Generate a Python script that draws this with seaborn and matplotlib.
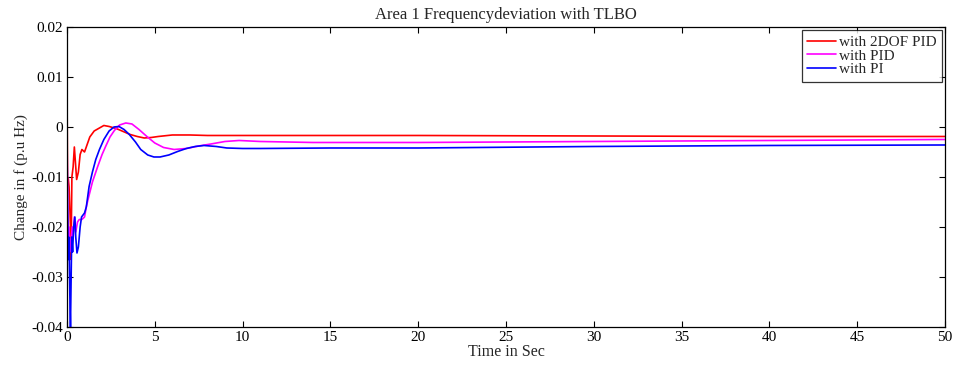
import numpy as np
import pandas as pd
import matplotlib
matplotlib.use("Agg")
import matplotlib.pyplot as plt
import seaborn as sns

# Data (values in units of 0.01 p.u. Hz)
t_red = [0, 0.01, 0.03, 0.08, 0.12, 0.2, 0.23, 0.28, 0.35, 0.42, 0.48, 0.55, 0.65, 0.75, 0.85,
         1.0, 1.15, 1.3, 1.55, 1.85, 2.1, 2.4, 2.8, 3.2, 3.6, 4.0, 4.4, 4.8, 5.2, 6.0, 7.0,
         8.0, 10, 20, 30, 40, 50]
v_red = [1.21, 0.3, -1.0, -1.05, -1.2, -2.0, -2.65, -1.0, -0.8, -0.4, -0.7, -1.05, -0.9, -0.55, -0.45,
         -0.5, -0.35, -0.2, -0.08, -0.02, 0.03, 0.01, -0.03, -0.09, -0.15, -0.19, -0.22, -0.21, -0.19,
         -0.16, -0.16, -0.17, -0.17, -0.17, -0.18, -0.19, -0.19]

t_pid = [0, 0.04, 0.08, 0.12, 0.16, 0.2, 0.25, 0.3, 0.35, 0.42, 0.5, 0.6, 0.7, 0.85, 1.0, 1.1, 1.2,
         1.45, 1.75, 2.0, 2.2, 2.45, 2.7, 3.0, 3.35, 3.7, 4.1, 4.55, 5.0, 5.5, 6.1, 6.8, 7.5, 8.2,
         9.0, 9.8, 11, 14, 20, 30, 40, 50]
v_pid = [-0.1, -1.5, -2.25, -2.0, -2.5, -2.4, -2.2, -2.0, -2.2, -1.8, -2.1, -1.9, -1.85, -1.85, -1.8,
         -1.6, -1.45, -1.1, -0.79, -0.55, -0.39, -0.2, -0.07, 0.04, 0.08, 0.06, -0.05, -0.19, -0.32,
         -0.41, -0.45, -0.43, -0.38, -0.34, -0.29, -0.27, -0.29, -0.31, -0.31, -0.29, -0.27, -0.25]

t_pi = [0, 0.03, 0.07, 0.1, 0.13, 0.17, 0.2, 0.23, 0.27, 0.32, 0.38, 0.45, 0.5, 0.57, 0.65, 0.75,
        0.83, 1.0, 1.1, 1.26, 1.45, 1.64, 1.85, 2.1, 2.4, 2.68, 2.96, 3.25, 3.55, 3.9, 4.2, 4.6,
        4.95, 5.3, 5.8, 6.3, 6.8, 7.3, 7.8, 8.5, 9.1, 10, 11, 15, 20, 30, 40, 50]
v_pi = [-0.32, -1.5, -2.65, -2.2, -2.6, -3.5, -4.0, -3.2, -2.2, -2.5, -2.0, -1.8, -2.2, -2.52, -2.4,
        -2.0, -1.8, -1.72, -1.6, -1.19, -0.9, -0.65, -0.45, -0.25, -0.08, 0.0, 0.01, -0.05, -0.15,
        -0.3, -0.45, -0.56, -0.6, -0.6, -0.56, -0.49, -0.43, -0.39, -0.37, -0.39, -0.42, -0.43,
        -0.43, -0.42, -0.42, -0.39, -0.37, -0.36]

labels = ["with 2DOF PID", "with PID", "with PI"]
colors = ["#ff0000", "#ff00ff", "#0000ff"]
x_ticks = [0, 5, 10, 15, 20, 25, 30, 35, 40, 45, 50]
y_ticks = [-0.04, -0.03, -0.02, -0.01, 0, 0.01, 0.02]
y_tick_labels = ["-0.04", "-0.03", "-0.02", "-0.01", "0", "0.01", "0.02"]

frames = []
for lab, tt, vv in zip(labels, [t_red, t_pid, t_pi], [v_red, v_pid, v_pi]):
    frames.append(pd.DataFrame({"t": tt, "v": np.array(vv) * 0.01, "series": lab}))
df = pd.concat(frames, ignore_index=True)

sns.set_theme(style="white")
plt.rcParams["font.family"] = ["Liberation Serif", "DejaVu Serif"]

fig = plt.figure(figsize=(9.54, 3.65), dpi=100)
ax = fig.add_axes([0.0702, 0.1041, 0.9204, 0.822])
sns.lineplot(data=df, x="t", y="v", hue="series", palette=colors, hue_order=labels,
             ax=ax, linewidth=1.2, estimator=None, sort=False)

ax.set_xlim(0, 50)
ax.set_ylim(-0.04, 0.02)
ax.set_xticks(x_ticks)
ax.set_xticklabels([str(x) for x in x_ticks], fontsize=11)
ax.set_yticks(y_ticks)
ax.set_yticklabels(y_tick_labels, fontsize=11)
ax.tick_params(direction="in", length=4, width=0.8, top=True, right=True, bottom=True, left=True,
               pad=3, colors="black")
for s in ax.spines.values():
    s.set_color("black")
    s.set_linewidth(0.9)
ax.set_title("Area 1 Frequencydeviation with TLBO", fontsize=12, pad=6)
ax.set_xlabel("Time in Sec", fontsize=11.5, labelpad=0)
ax.set_ylabel("Change in f (p.u Hz)", fontsize=11, labelpad=2)
leg = ax.legend(loc="upper right", fontsize=11, frameon=True, fancybox=False, handlelength=1.9,
                borderaxespad=0.2, borderpad=0.35, labelspacing=0.0, handletextpad=0.2)
leg.get_frame().set_edgecolor("black")
leg.get_frame().set_linewidth(0.9)

fig.savefig("out.png", dpi=100, facecolor="white")
